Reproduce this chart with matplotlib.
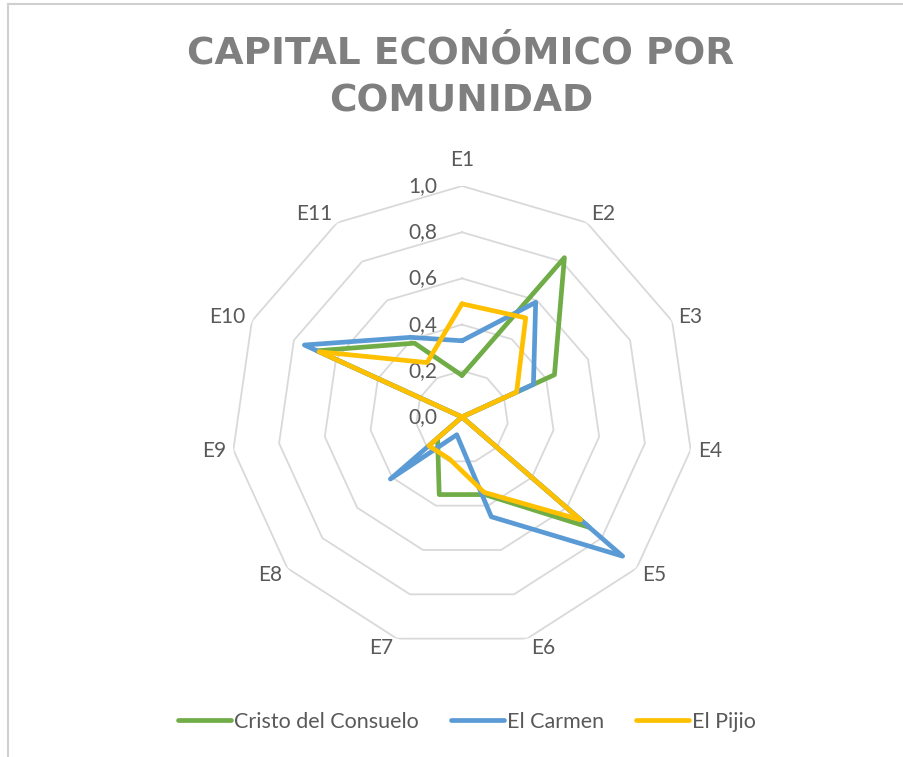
import numpy as np
import matplotlib
matplotlib.use("Agg")
import matplotlib.pyplot as plt
from matplotlib.transforms import offset_copy
from matplotlib.lines import Line2D

categories = ["E1", "E2", "E3", "E4", "E5", "E6", "E7", "E8", "E9", "E10", "E11"]
cristo = [0.18, 0.82, 0.44, 0.0, 0.73, 0.35, 0.35, 0.14, 0.0, 0.69, 0.38]
carmen = [0.33, 0.59, 0.34, 0.0, 0.92, 0.45, 0.08, 0.41, 0.0, 0.75, 0.41]
pijio = [0.49, 0.51, 0.26, 0.0, 0.68, 0.34, 0.19, 0.19, 0.0, 0.68, 0.28]
series_names = ["Cristo del Consuelo", "El Carmen", "El Pijio"]
colors = ["#70AD47", "#5B9BD5", "#FFC000"]
levels = [0.2, 0.4, 0.6, 0.8, 1.0]
level_labels = ["0,0", "0,2", "0,4", "0,6", "0,8", "1,0"]

FONT = "Lato"
TXT = "#595959"

W, H = 904, 757
fig = plt.figure(figsize=(W / 100, H / 100), dpi=100)

# chart border (only top and left visible in the source)
fig.add_artist(Line2D([8 / W, 8 / W], [0, 1 - 4 / H], color="#d0d0d0", lw=1.5))
fig.add_artist(Line2D([8 / W, 1], [1 - 4 / H, 1 - 4 / H], color="#d0d0d0", lw=1.5))

cx, cy, R = 462, 417, 231
ax = fig.add_axes([(cx - R) / W, (H - cy - R) / H, 2 * R / W, 2 * R / H],
                  projection="polar")
ax.set_theta_zero_location("N")
ax.set_theta_direction(-1)
ax.set_ylim(0, 1)
ax.grid(False)
ax.spines["polar"].set_visible(False)
ax.set_xticks([])
ax.set_yticks([])
ax.patch.set_alpha(0)

n = len(categories)
angles = np.linspace(0, 2 * np.pi, n, endpoint=False)
closed = np.concatenate([angles, angles[:1]])

# polygon grid
for lvl in levels:
    ax.plot(closed, [lvl] * (n + 1), color="#d9d9d9", lw=1.3, zorder=1)

# radial value labels, left of the vertical axis
trans = offset_copy(ax.transData, fig=fig, x=-25, y=0, units="dots")
for i, lab in enumerate(level_labels):
    ax.text(0, i * 0.2, lab, transform=trans, ha="right", va="center",
            fontsize=15, color=TXT, family=FONT, zorder=3)

# category labels, anchored next to the outer vertex like Excel does
for a, lab in zip(angles, categories):
    sx, sy = np.sin(a), np.cos(a)          # screen dir, y up
    if abs(sx) < 0.1:
        ox, oy, ha = 0, 26, "center"
    else:
        gap = 8 - 4 * abs(sy)
        ox = gap if sx > 0 else -gap
        oy = 10 * sy
        ha = "left" if sx > 0 else "right"
    tr = offset_copy(ax.transData, fig=fig, x=ox, y=oy, units="dots")
    ax.text(a, 1.0, lab, transform=tr, ha=ha, va="center", fontsize=15,
            color=TXT, family=FONT)

for vals, c, name in zip([cristo, carmen, pijio], colors, series_names):
    ax.plot(closed, vals + vals[:1], color=c, lw=3.4, label=name,
            solid_joinstyle="round", solid_capstyle="round", zorder=4)

fig.text(461 / W, 1 - 54 / H, "CAPITAL ECONÓMICO POR", ha="center",
         va="center", fontsize=27, fontweight="bold", color="#7f7f7f",
         family="DejaVu Sans")
fig.text(461 / W, 1 - 102 / H, "COMUNIDAD", ha="center", va="center",
         fontsize=27, fontweight="bold", color="#7f7f7f", family="DejaVu Sans")

leg = fig.legend(loc="center", bbox_to_anchor=(467 / W, 1 - 722 / H),
                 ncol=3, frameon=False, handlelength=2.45, handletextpad=0.15,
                 columnspacing=1.5, prop={"family": FONT, "size": 15.5})
for t in leg.get_texts():
    t.set_color(TXT)

fig.savefig("out.png", dpi=100)
